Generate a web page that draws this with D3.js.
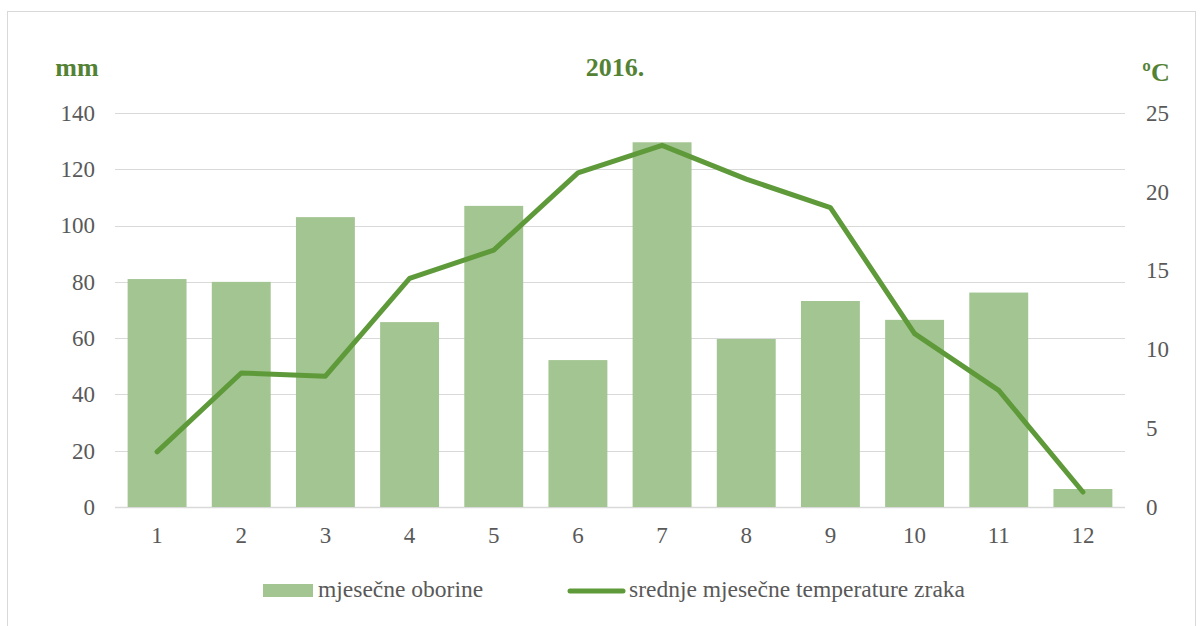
<!DOCTYPE html>
<html>
<head>
<meta charset="utf-8">
<script src="https://cdn.jsdelivr.net/npm/d3@7"></script>
<style>
  body { margin: 0; background: #fff; }
  text { font-family: 'Liberation Serif', 'Times New Roman', serif; }
</style>
</head>
<body>
<div id="chart"></div>
<script>
// DATA
var months = ["1", "2", "3", "4", "5", "6", "7", "8", "9", "10", "11", "12"];
var rain = [81, 80, 103, 65.7, 107, 52.2, 129.6, 59.7, 73.2, 66.5, 76.2, 6.4];
var temp = [3.5, 8.5, 8.3, 14.5, 16.3, 21.2, 22.95, 20.8, 19.0, 11.0, 7.4, 0.95];
var rainTicks = [0, 20, 40, 60, 80, 100, 120, 140];
var tempTicks = [0, 5, 10, 15, 20, 25];

// COLORS
var barColor = "#a3c592";
var lineColor = "#5f9a3a";
var titleColor = "#548235";
var tickColor = "#595959";
var gridColor = "#d9d9d9";
var fontFamily = "'Liberation Serif', 'Times New Roman', serif";

var W = 1202, H = 626;
var plotL = 115, plotR = 1125, plotT = 113, plotB = 507;

var svg = d3.select("#chart").append("svg")
  .attr("width", W).attr("height", H);

// chart border
svg.append("rect")
  .attr("x", 7.5).attr("y", 11.5)
  .attr("width", 1188).attr("height", 640)
  .attr("fill", "none").attr("stroke", gridColor).attr("stroke-width", 1);

var x = d3.scaleBand().domain(months).range([plotL, plotR]).paddingInner(0.3).paddingOuter(0.15);
var yL = d3.scaleLinear().domain([0, 140]).range([plotB, plotT]);
var yR = d3.scaleLinear().domain([0, 25]).range([plotB, plotT]);

// gridlines
svg.append("g").selectAll("line").data(rainTicks).join("line")
  .attr("x1", plotL).attr("x2", plotR)
  .attr("y1", d => Math.round(yL(d)) + 0.5).attr("y2", d => Math.round(yL(d)) + 0.5)
  .attr("stroke", gridColor).attr("stroke-width", d => d === 0 ? 1.5 : 1);

// bars
svg.append("g").selectAll("rect").data(rain).join("rect")
  .attr("x", (d, i) => x(months[i]))
  .attr("y", d => yL(d))
  .attr("width", x.bandwidth())
  .attr("height", d => plotB - yL(d))
  .attr("fill", barColor);

// line
var line = d3.line()
  .x((d, i) => x(months[i]) + x.bandwidth() / 2)
  .y(d => yR(d));
svg.append("path").datum(temp)
  .attr("d", line)
  .attr("fill", "none")
  .attr("stroke", lineColor)
  .attr("stroke-width", 5)
  .attr("stroke-linejoin", "round")
  .attr("stroke-linecap", "round");

// axes
var axL = svg.append("g").attr("transform", `translate(${plotL},0)`)
  .call(d3.axisLeft(yL).tickValues(rainTicks).tickSize(0).tickPadding(20));
var axR = svg.append("g").attr("transform", `translate(${plotR},0)`)
  .call(d3.axisRight(yR).tickValues(tempTicks).tickSize(0).tickPadding(21));
var axB = svg.append("g").attr("transform", `translate(0,${plotB})`)
  .call(d3.axisBottom(x).tickSize(0).tickPadding(20));

[axL, axR, axB].forEach(function(a) {
  a.select(".domain").remove();
  a.selectAll("text")
    .attr("font-family", fontFamily)
    .attr("font-size", 23)
    .attr("fill", tickColor);
});

// titles
svg.append("text").attr("x", 77).attr("y", 76)
  .attr("text-anchor", "middle").attr("font-size", 26).attr("font-weight", "bold")
  .attr("font-family", fontFamily)
  .attr("fill", titleColor).text("mm");
svg.append("text").attr("x", 615).attr("y", 76)
  .attr("text-anchor", "middle").attr("font-size", 26).attr("font-weight", "bold")
  .attr("font-family", fontFamily)
  .attr("fill", titleColor).text("2016.");
svg.append("text").attr("x", 1156).attr("y", 81)
  .attr("text-anchor", "middle").attr("font-size", 26).attr("font-weight", "bold")
  .attr("font-family", fontFamily)
  .attr("fill", titleColor).text("ºC");

// legend
var leg = svg.append("g").attr("font-family", fontFamily);
leg.append("rect").attr("x", 263).attr("y", 584).attr("width", 50).attr("height", 13)
  .attr("fill", barColor);
leg.append("text").attr("x", 318).attr("y", 597).attr("font-size", 23.5)
  .attr("fill", tickColor).text("mjesečne oborine");
leg.append("line").attr("x1", 570).attr("x2", 623).attr("y1", 591).attr("y2", 591)
  .attr("stroke", lineColor).attr("stroke-width", 5).attr("stroke-linecap", "round");
leg.append("text").attr("x", 629).attr("y", 597).attr("font-size", 23.5)
  .attr("fill", tickColor).text("srednje mjesečne temperature zraka");
</script>
</body>
</html>
